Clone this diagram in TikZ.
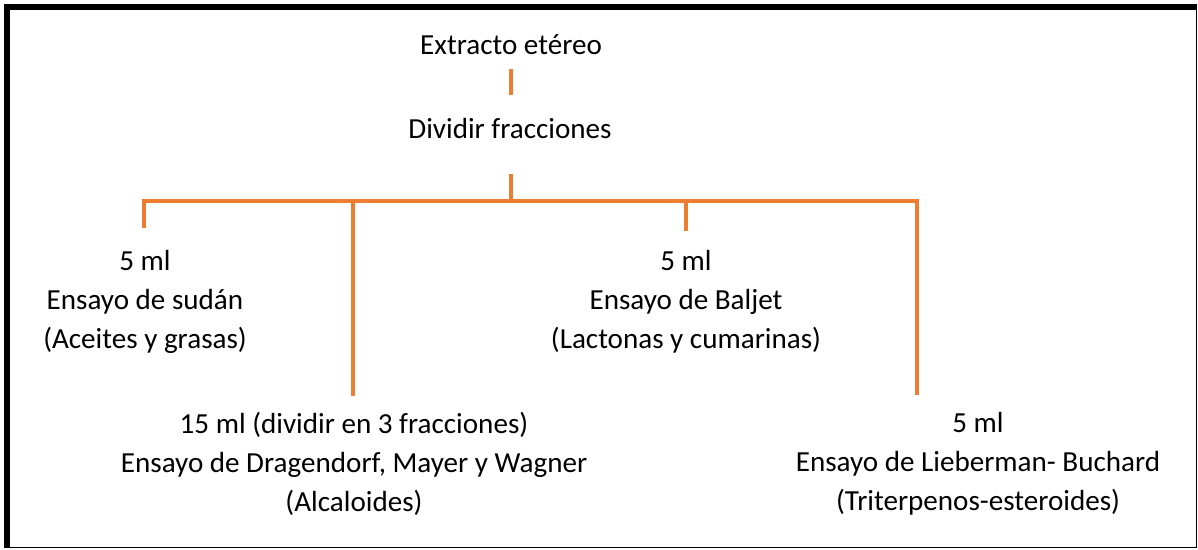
\documentclass[tikz,border=0pt]{standalone}
\usepackage{fontspec}
\setmainfont{Carlito}
\definecolor{linkorange}{HTML}{ED7D31}
\tikzset{
  lbl/.style={inner sep=0pt, align=center, font=\fontsize{29.1}{39}\selectfont, text=black},
  link/.style={draw=linkorange, line width=4pt, line cap=butt}
}
\begin{document}
\begin{tikzpicture}[x=1pt, y=-1pt]
\useasboundingbox (0,0) rectangle (1198,549);
% frame
\fill[black] (4,4) rectangle (1197,548);
\fill[white] (10,10) rectangle (1196,547);
% texts
\node[lbl] (ext) at (511,45) {Extracto etéreo};
\node[lbl] (div) at (510,129) {Dividir fracciones};
\node[lbl] (sud) at (145,302) {5 ml\\Ensayo de sudán\\(Aceites y grasas)};
\node[lbl] (bal) at (686,302) {5 ml\\Ensayo de Baljet\\(Lactonas y cumarinas)};
\node[lbl] (dra) at (354,464) {15 ml (dividir en 3 fracciones)\\Ensayo de Dragendorf, Mayer y Wagner\\(Alcaloides)};
\node[lbl] (lib) at (978,464) {5 ml\\Ensayo de Lieberman- Buchard\\(Triterpenos-esteroides)};
% connector points
\coordinate (e1) at (511,69);
\coordinate (e2) at (511,95);
\coordinate (d1) at (511,174);
\coordinate (bus) at (511,201);
\coordinate (busL) at (142,201);
\coordinate (busR) at (919,201);
\coordinate (sudTop) at (144,228);
\coordinate (draTop) at (353,396);
\coordinate (balTop) at (686,231);
\coordinate (libTop) at (917,395);
% connectors
\draw[link] (e1) -- (e2);
\draw[link] (d1) -- (bus);
\draw[link] (busL) -- (busR);
\draw[link] (sudTop |- busL) -- (sudTop);
\draw[link] (draTop |- busL) -- (draTop);
\draw[link] (balTop |- busL) -- (balTop);
\draw[link] (libTop |- busL) -- (libTop);
\end{tikzpicture}
\end{document}
